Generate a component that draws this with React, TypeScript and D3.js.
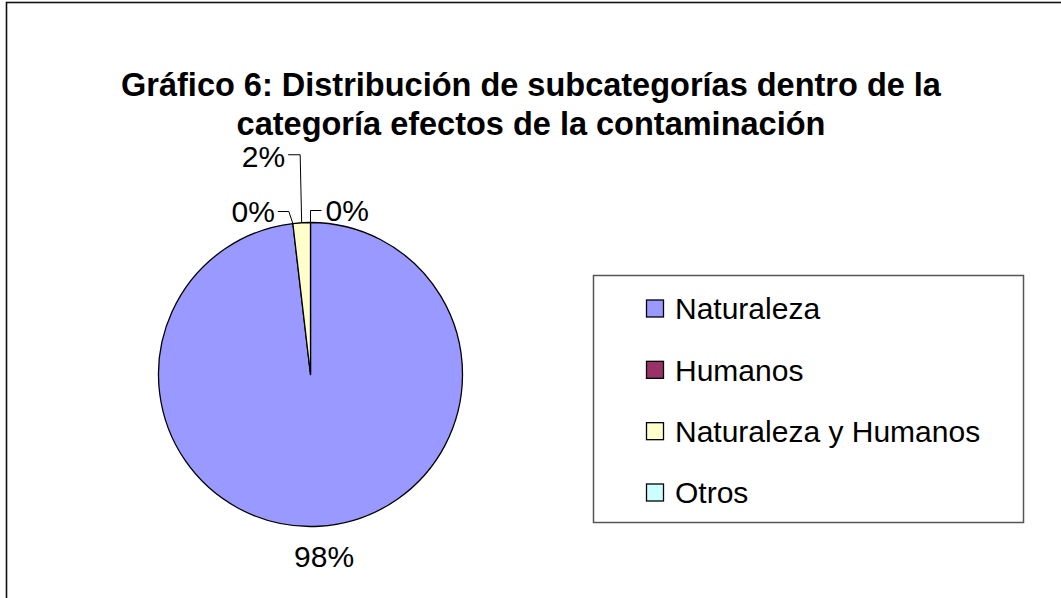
import React, { useEffect, useRef } from 'react';
import * as d3 from 'd3';

// Gráfico 6 — pie of subcategories with a boxed legend on the right.
// Small slices get Excel-style elbow leader lines to their labels.

const categories = ['Naturaleza', 'Humanos', 'Naturaleza y Humanos', 'Otros'];
const counts = [53, 0, 1, 0];
const colors = ['#9999FF', '#993366', '#FFFFCC', '#CCFFFF'];
const titleLines = [
  'Gráfico 6: Distribución de subcategorías dentro de la',
  'categoría efectos de la contaminación',
];

const W = 1061;
const H = 598;
const CX = 310.5;
const CY = 374.5;
const R = 152;
const FONT = '"Liberation Sans", Arial, sans-serif';

// label placement per slice: elbow offsets relative to the slice's arc point
// kind 'outside' = plain label along the mid-angle, 'left'/'right' = leader line
const labelLayout = [
  { kind: 'outside', dist: 182 },
  { kind: 'left', ex: -4, ey: -12, hx: -11 },
  { kind: 'left', ex: -1.5, ey: -68, hx: -12 },
  { kind: 'right', ex: 0, ey: -12, hx: 11 },
];

const App = () => {
  const svgRef = useRef<SVGSVGElement>(null);

  useEffect(() => {
    const svg = d3.select(svgRef.current).attr('width', W).attr('height', H);
    svg.selectAll('*').remove();
    svg.append('rect').attr('width', W).attr('height', H).attr('fill', 'white');

    // outer chart-area border (runs off the right and bottom)
    svg
      .append('rect')
      .attr('x', 6.5)
      .attr('y', 2.5)
      .attr('width', W + 20)
      .attr('height', H + 20)
      .attr('fill', 'none')
      .attr('stroke', '#111')
      .attr('stroke-width', 1.6);

    const title = svg
      .append('text')
      .attr('text-anchor', 'middle')
      .attr('font-family', FONT)
      .attr('font-weight', 'bold')
      .attr('font-size', '32.5px')
      .attr('fill', '#000');
    titleLines.forEach((t, i) => {
      title
        .append('tspan')
        .attr('x', 531)
        .attr('y', 96 + i * 39)
        .text(t);
    });

    const total = d3.sum(counts);
    const data = categories.map((name, i) => ({ name, value: counts[i], color: colors[i] }));
    const pie = d3
      .pie<any>()
      .sort(null)
      .value((d) => d.value);
    const arcs = pie(data);
    const arc = d3.arc<any>().innerRadius(0).outerRadius(R);

    const g = svg.append('g').attr('transform', `translate(${CX},${CY})`);
    g.selectAll('path')
      .data(arcs.filter((a) => a.value > 0))
      .enter()
      .append('path')
      .attr('d', arc)
      .attr('fill', (d) => d.data.color)
      .attr('stroke', '#000')
      .attr('stroke-width', 1.3)
      .attr('stroke-linejoin', 'round');

    // data labels
    arcs.forEach((a, i) => {
      const lay = labelLayout[i];
      const pct = `${Math.round((a.value / total) * 100)}%`;
      const mid = (a.startAngle + a.endAngle) / 2;
      const px = Math.sin(mid) * R;
      const py = -Math.cos(mid) * R;
      const txt = g
        .append('text')
        .attr('font-family', FONT)
        .attr('font-size', '30px')
        .attr('fill', '#000')
        .attr('dy', '0.36em')
        .text(pct);
      if (lay.kind === 'outside') {
        txt
          .attr('x', Math.sin(mid) * lay.dist! + 3)
          .attr('y', -Math.cos(mid) * lay.dist!)
          .attr('text-anchor', 'middle');
        return;
      }
      const ex = px + lay.ex!;
      const ey = py + lay.ey!;
      const hx = ex + lay.hx!;
      g.append('path')
        .attr('d', `M${px},${py}L${ex},${ey}L${hx},${ey}`)
        .attr('fill', 'none')
        .attr('stroke', '#000')
        .attr('stroke-width', 1);
      txt
        .attr('x', hx + (lay.kind === 'left' ? -3 : 4))
        .attr('y', ey + (i === 2 ? 1 : 0))
        .attr('text-anchor', lay.kind === 'left' ? 'end' : 'start');
    });

    // legend
    const lx = 593.5;
    const ly = 275.5;
    svg
      .append('rect')
      .attr('x', lx)
      .attr('y', ly)
      .attr('width', 430)
      .attr('height', 247)
      .attr('fill', 'white')
      .attr('stroke', '#555')
      .attr('stroke-width', 1.5);
    const rowY = d3.scalePoint<string>().domain(categories).range([308.5, 492.5]);
    const items = svg
      .append('g')
      .selectAll('g')
      .data(data)
      .enter()
      .append('g')
      .attr('transform', (d) => `translate(646,${rowY(d.name)})`);
    items
      .append('rect')
      .attr('x', 0.5)
      .attr('y', -8.5)
      .attr('width', 17)
      .attr('height', 17)
      .attr('fill', (d) => d.color)
      .attr('stroke', '#000')
      .attr('stroke-width', 1.3);
    items
      .append('text')
      .attr('x', 29)
      .attr('dy', '0.36em')
      .attr('font-family', FONT)
      .attr('font-size', '30px')
      .attr('fill', '#000')
      .text((d) => d.name);
  }, []);

  return (
    <div style={{ position: 'absolute', left: 0, top: 0 }}>
      <svg ref={svgRef} style={{ display: 'block' }} />
    </div>
  );
};

export default App;
